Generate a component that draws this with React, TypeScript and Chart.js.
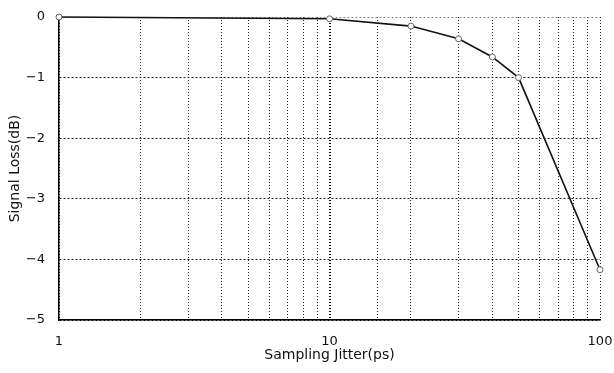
import React, { useEffect, useRef } from "react";
import { Chart, registerables } from "chart.js";

Chart.register(...registerables);

const jitterPs = [1, 10, 20, 30, 40, 50, 100, 102.5];
const lossDb = [0, -0.03, -0.15, -0.36, -0.66, -1.0, -4.17, -4.9];
const markerShown = [true, true, true, true, true, true, true, false];
const xLabelValues = [1, 10, 100];
const yTicks = [0, -1, -2, -3, -4, -5];
const xTitle = "Sampling Jitter(ps)";
const yTitle = "Signal Loss(dB)";

const FONT = "'DejaVu Sans', sans-serif";

export default function App() {
  const ref = useRef<HTMLCanvasElement | null>(null);
  useEffect(() => {
    if (!ref.current) return;
    const points = jitterPs.map((x, i) => ({ x, y: lossDb[i] }));
    const chart = new Chart(ref.current, {
      type: "line",
      data: {
        datasets: [
          {
            data: points,
            borderColor: "#111",
            borderWidth: 1.6,
            pointRadius: markerShown.map((m) => (m ? 3 : 0)),
            pointBorderColor: "#666",
            pointBackgroundColor: "#fff",
            pointBorderWidth: 1,
            tension: 0,
            clip: false as any,
          },
        ],
      },
      options: {
        animation: false,
        responsive: false,
        maintainAspectRatio: false,
        layout: { padding: { top: 17, right: 14, left: 0, bottom: 0 } },
        plugins: { legend: { display: false }, tooltip: { enabled: false } },
        scales: {
          x: {
            type: "logarithmic",
            min: 1,
            max: 100,
            afterFit: (s: any) => {
              s.height = 53;
            },
            ticks: {
              autoSkip: false,
              maxRotation: 0,
              padding: 0,
              color: "#111",
              font: { family: FONT, size: 13 },
              callback: (v: any) => (xLabelValues.includes(Number(v)) ? String(v) : ""),
            },
            grid: {
              drawTicks: true,
              tickLength: 14,
              tickColor: "rgba(0,0,0,0)",
              color: (ctx: any) => (ctx.tick && ctx.tick.value === 10 ? "#000" : "#222"),
              lineWidth: (ctx: any) => (ctx.tick && ctx.tick.value === 10 ? 2 : 1),
            },
            border: { display: true, color: "#000", width: 1.5, dash: [1, 2] },
            title: {
              display: true,
              text: xTitle,
              color: "#111",
              font: { family: FONT, size: 14 },
              padding: { top: 0, bottom: 9 },
            },
          },
          y: {
            type: "linear",
            min: -5,
            max: 0,
            afterFit: (s: any) => {
              s.width = 59;
            },
            afterBuildTicks: (s: any) => {
              s.ticks = yTicks.map((v) => ({ value: v }));
            },
            ticks: {
              padding: 0,
              color: "#111",
              font: { family: FONT, size: 13 },
              callback: (v: any) => String(v).replace("-", "\u2212"),
            },
            grid: {
              drawTicks: true,
              tickLength: 14,
              tickColor: "rgba(0,0,0,0)",
              color: (ctx: any) => (ctx.tick && ctx.tick.value === 0 ? "#888" : "#222"),
              lineWidth: 1,
            },
            border: { display: true, color: "#000", width: 1.5, dash: [2, 2] },
            title: {
              display: true,
              text: yTitle,
              color: "#111",
              font: { family: FONT, size: 14 },
              padding: { top: 7, bottom: 0 },
            },
          },
        },
      },
    });
    return () => chart.destroy();
  }, []);
  return (
    <div style={{ position: "fixed", left: 0, top: 0, width: 614, height: 373, background: "#fff" }}>
      <canvas ref={ref} width={614} height={373} style={{ width: 614, height: 373 }} />
    </div>
  );
}
